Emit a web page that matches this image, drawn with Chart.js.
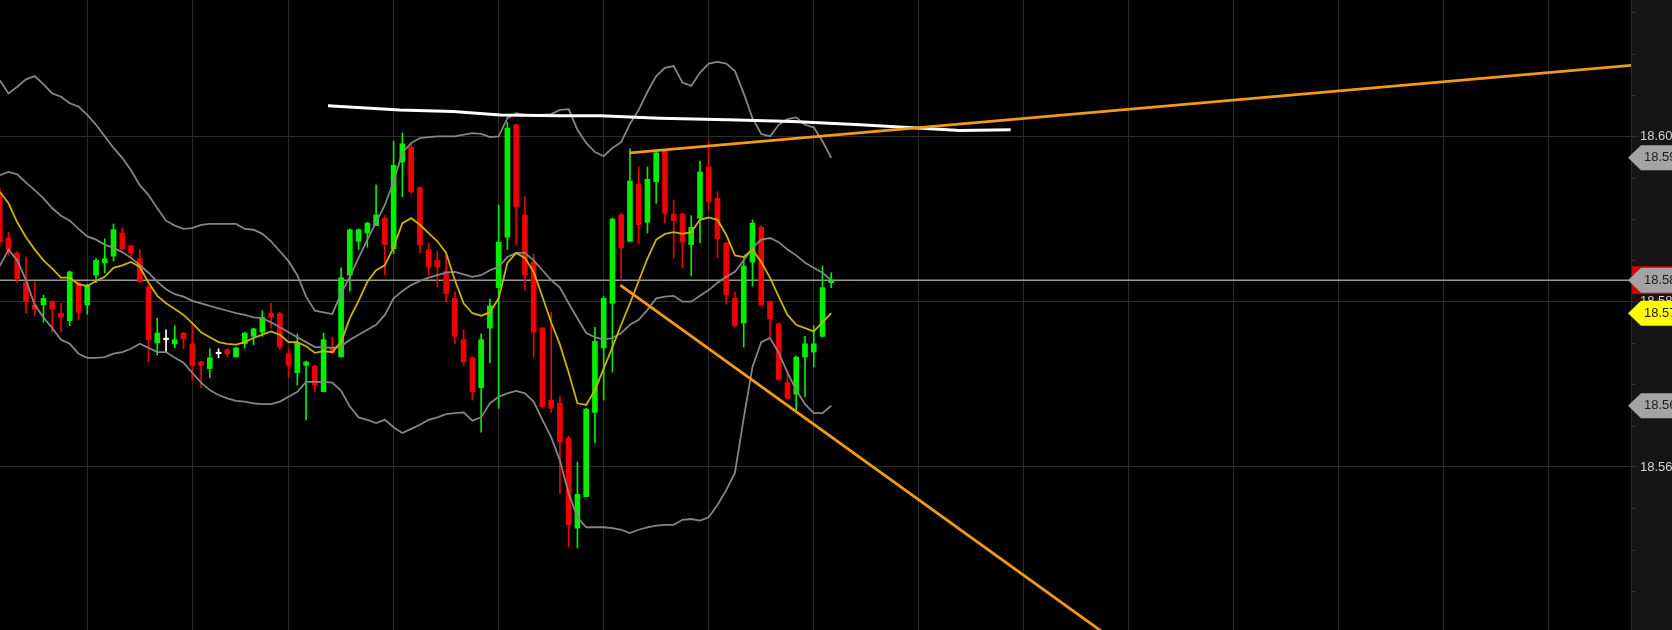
<!DOCTYPE html>
<html>
<head>
<meta charset="utf-8">
<title>Price chart</title>
<script src="https://cdn.jsdelivr.net/npm/chart.js@4/dist/chart.umd.min.js"></script>
<style>
    html, body { margin: 0; padding: 0; background: #000; }
    canvas { display: block; }
</style>
</head>
<body>
<canvas id="priceChart" width="1672" height="630"></canvas>
<script>
// Candles (one per bar slot, index 0 = leftmost)
const opens = [
    18.5931, 18.5877, 18.5859, 18.5823, 18.5796, 18.5796, 18.5800, 18.5786, 18.5777, 18.5823,
    18.5796, 18.5832, 18.5847, 18.5855, 18.5883, 18.5867, 18.5852, 18.5818, 18.5750, 18.5754,
    18.5749, 18.5762, 18.5749, 18.5727, 18.5719, 18.5737, 18.5742, 18.5733, 18.5749, 18.5758,
    18.5763, 18.5786, 18.5786, 18.5737, 18.5714, 18.5723, 18.5722, 18.5691, 18.5744, 18.5733,
    18.5832, 18.5873, 18.5883, 18.5892, 18.5901, 18.5864, 18.5969, 18.5987, 18.5938, 18.5863,
    18.5850, 18.5837, 18.5804, 18.5754, 18.5732, 18.5696, 18.5768, 18.5817, 18.5878, 18.6014,
    18.5905, 18.5848, 18.5768, 18.5681, 18.5677, 18.5635, 18.5526, 18.5564, 18.5666, 18.5744,
    18.5798, 18.5905, 18.5873, 18.5942, 18.5896, 18.5945, 18.5982, 18.5906, 18.5906, 18.5869,
    18.5901, 18.5963, 18.5925, 18.5871, 18.5804, 18.5774, 18.5848, 18.5890, 18.5800, 18.5773,
    18.5702, 18.5688, 18.5733, 18.5739, 18.5758, 18.5823
];
const highs = [
    18.5938, 18.5884, 18.5861, 18.5854, 18.5824, 18.5808, 18.5801, 18.5798, 18.5837, 18.5824,
    18.5821, 18.5852, 18.5876, 18.5894, 18.5889, 18.5869, 18.5863, 18.5819, 18.5780, 18.5766,
    18.5771, 18.5763, 18.5774, 18.5728, 18.5743, 18.5743, 18.5743, 18.5745, 18.5763, 18.5768,
    18.5789, 18.5798, 18.5787, 18.5743, 18.5761, 18.5728, 18.5723, 18.5762, 18.5757, 18.5841,
    18.5888, 18.5888, 18.5896, 18.5941, 18.5904, 18.5994, 18.6004, 18.5990, 18.5939, 18.5871,
    18.5861, 18.5858, 18.5812, 18.5766, 18.5733, 18.5761, 18.5803, 18.5917, 18.6017, 18.6015,
    18.5927, 18.5858, 18.5769, 18.5787, 18.5685, 18.5637, 18.5606, 18.5671, 18.5769, 18.5806,
    18.5901, 18.5907, 18.5985, 18.5963, 18.5963, 18.5981, 18.5984, 18.5923, 18.5907, 18.5904,
    18.5970, 18.5994, 18.5933, 18.5872, 18.5812, 18.5852, 18.5899, 18.5892, 18.5801, 18.5774,
    18.5717, 18.5734, 18.5758, 18.5771, 18.5843, 18.5835
];
const lows = [
    18.5867, 18.5856, 18.5823, 18.5786, 18.5783, 18.5775, 18.5763, 18.5763, 18.5771, 18.5778,
    18.5785, 18.5823, 18.5835, 18.5849, 18.5863, 18.5852, 18.5823, 18.5727, 18.5735, 18.5739,
    18.5744, 18.5743, 18.5705, 18.5696, 18.5708, 18.5732, 18.5733, 18.5733, 18.5744, 18.5748,
    18.5758, 18.5768, 18.5742, 18.5709, 18.5699, 18.5657, 18.5691, 18.5691, 18.5737, 18.5733,
    18.5813, 18.5863, 18.5866, 18.5892, 18.5832, 18.5858, 18.5927, 18.5931, 18.5859, 18.5832,
    18.5818, 18.5800, 18.5749, 18.5723, 18.5681, 18.5642, 18.5726, 18.5671, 18.5863, 18.5869,
    18.5814, 18.5733, 18.5671, 18.5666, 18.5568, 18.5503, 18.5502, 18.5564, 18.5629, 18.5681,
    18.5715, 18.5826, 18.5873, 18.5870, 18.5883, 18.5919, 18.5895, 18.5853, 18.5841, 18.5831,
    18.5871, 18.5911, 18.5853, 18.5797, 18.5769, 18.5745, 18.5819, 18.5795, 18.5758, 18.5705,
    18.5682, 18.5669, 18.5685, 18.5721, 18.5757, 18.5817
];
const closes = [
    18.5872, 18.5863, 18.5827, 18.5800, 18.5791, 18.5804, 18.5791, 18.5781, 18.5836, 18.5787,
    18.5819, 18.5850, 18.5852, 18.5887, 18.5864, 18.5859, 18.5824, 18.5754, 18.5762, 18.5754,
    18.5754, 18.5755, 18.5723, 18.5723, 18.5732, 18.5737, 18.5737, 18.5744, 18.5762, 18.5767,
    18.5781, 18.5781, 18.5745, 18.5723, 18.5750, 18.5727, 18.5699, 18.5754, 18.5738, 18.5829,
    18.5887, 18.5887, 18.5895, 18.5905, 18.5869, 18.5965, 18.5991, 18.5933, 18.5869, 18.5842,
    18.5842, 18.5810, 18.5758, 18.5727, 18.5691, 18.5754, 18.5795, 18.5872, 18.6010, 18.5915,
    18.5832, 18.5763, 18.5673, 18.5671, 18.5630, 18.5530, 18.5567, 18.5670, 18.5752, 18.5804,
    18.5900, 18.5865, 18.5946, 18.5893, 18.5948, 18.5980, 18.5907, 18.5898, 18.5872, 18.5890,
    18.5957, 18.5921, 18.5876, 18.5808, 18.5771, 18.5843, 18.5895, 18.5796, 18.5779, 18.5706,
    18.5683, 18.5733, 18.5749, 18.5749, 18.5817, 18.5826
];

// Bollinger bands
const upperBand = [
    18.6068, 18.6052, 18.6060, 18.6069, 18.6073, 18.6063, 18.6052, 18.6048, 18.6040, 18.6036,
    18.6026, 18.6014, 18.6000, 18.5986, 18.5974, 18.5959, 18.5941, 18.5929, 18.5913, 18.5898,
    18.5892, 18.5888, 18.5889, 18.5893, 18.5894, 18.5894, 18.5894, 18.5894, 18.5888, 18.5887,
    18.5882, 18.5873, 18.5861, 18.5849, 18.5832, 18.5806, 18.5789, 18.5787, 18.5785, 18.5810,
    18.5830, 18.5853, 18.5875, 18.5896, 18.5917, 18.5945, 18.5980, 18.5992, 18.5998, 18.5999,
    18.6000, 18.6000, 18.6000, 18.6002, 18.6004, 18.6003, 18.5999, 18.6000, 18.6022, 18.6028,
    18.6026, 18.6026, 18.6026, 18.6027, 18.6032, 18.6033, 18.6008, 18.5992, 18.5981, 18.5976,
    18.5986, 18.5993, 18.6015, 18.6032, 18.6054, 18.6073, 18.6083, 18.6085, 18.6065, 18.6061,
    18.6077, 18.6088, 18.6090, 18.6088, 18.6079, 18.6052, 18.6022, 18.6003, 18.6000, 18.6014,
    18.6021, 18.6023, 18.6014, 18.6011, 18.5994, 18.5974
];
const middleBand = [
    18.5953, 18.5957, 18.5954, 18.5944, 18.5935, 18.5925, 18.5913, 18.5904, 18.5898, 18.5888,
    18.5879, 18.5875, 18.5869, 18.5865, 18.5860, 18.5853, 18.5844, 18.5835, 18.5824, 18.5815,
    18.5809, 18.5806, 18.5801, 18.5798, 18.5795, 18.5792, 18.5789, 18.5786, 18.5784, 18.5781,
    18.5780, 18.5775, 18.5769, 18.5763, 18.5757, 18.5751, 18.5745, 18.5745, 18.5744, 18.5746,
    18.5754, 18.5760, 18.5766, 18.5772, 18.5784, 18.5804, 18.5813, 18.5820, 18.5825, 18.5829,
    18.5832, 18.5835, 18.5836, 18.5833, 18.5830, 18.5832, 18.5838, 18.5842, 18.5854, 18.5859,
    18.5859, 18.5850, 18.5838, 18.5826, 18.5817, 18.5798, 18.5780, 18.5762, 18.5757, 18.5754,
    18.5756, 18.5762, 18.5772, 18.5778, 18.5790, 18.5804, 18.5806, 18.5807, 18.5800, 18.5800,
    18.5807, 18.5814, 18.5823, 18.5830, 18.5836, 18.5850, 18.5865, 18.5875, 18.5877, 18.5872,
    18.5863, 18.5856, 18.5847, 18.5841, 18.5835, 18.5826
];
const lowerBand = [
    18.5843, 18.5863, 18.5850, 18.5826, 18.5796, 18.5781, 18.5768, 18.5754, 18.5749, 18.5737,
    18.5732, 18.5732, 18.5733, 18.5737, 18.5739, 18.5743, 18.5749, 18.5744, 18.5739, 18.5739,
    18.5732, 18.5726, 18.5714, 18.5702, 18.5693, 18.5687, 18.5683, 18.5680, 18.5679, 18.5677,
    18.5676, 18.5676, 18.5679, 18.5685, 18.5691, 18.5703, 18.5703, 18.5703, 18.5702, 18.5692,
    18.5673, 18.5660, 18.5657, 18.5653, 18.5657, 18.5648, 18.5641, 18.5646, 18.5651, 18.5657,
    18.5660, 18.5664, 18.5665, 18.5666, 18.5656, 18.5660, 18.5677, 18.5685, 18.5689, 18.5692,
    18.5689, 18.5679, 18.5657, 18.5636, 18.5608, 18.5568, 18.5539, 18.5527, 18.5527, 18.5527,
    18.5526, 18.5524, 18.5520, 18.5524, 18.5527, 18.5529, 18.5530, 18.5530, 18.5536, 18.5537,
    18.5535, 18.5539, 18.5554, 18.5572, 18.5593, 18.5659, 18.5721, 18.5751, 18.5756, 18.5738,
    18.5714, 18.5693, 18.5676, 18.5665, 18.5665, 18.5674
];

// Fast moving average (yellow)
const fastMa = [
    18.5933, 18.5919, 18.5896, 18.5878, 18.5863, 18.5850, 18.5840, 18.5829, 18.5829, 18.5821,
    18.5819, 18.5825, 18.5830, 18.5841, 18.5844, 18.5848, 18.5842, 18.5823, 18.5807, 18.5798,
    18.5791, 18.5784, 18.5774, 18.5763, 18.5757, 18.5751, 18.5749, 18.5748, 18.5751, 18.5756,
    18.5760, 18.5764, 18.5760, 18.5751, 18.5751, 18.5746, 18.5738, 18.5740, 18.5739, 18.5751,
    18.5780, 18.5801, 18.5824, 18.5838, 18.5844, 18.5866, 18.5895, 18.5901, 18.5893, 18.5883,
    18.5873, 18.5859, 18.5826, 18.5798, 18.5786, 18.5783, 18.5787, 18.5804, 18.5847, 18.5859,
    18.5853, 18.5836, 18.5806, 18.5775, 18.5748, 18.5714, 18.5677, 18.5675, 18.5693, 18.5719,
    18.5745, 18.5772, 18.5798, 18.5825, 18.5852, 18.5875, 18.5882, 18.5884, 18.5882, 18.5884,
    18.5899, 18.5902, 18.5899, 18.5881, 18.5856, 18.5854, 18.5863, 18.5848, 18.5829, 18.5806,
    18.5784, 18.5772, 18.5768, 18.5764, 18.5775, 18.5786
];

// Hand drawn lines (bar slot, price)
const whiteLineX = [37.5, 45.7, 51.8, 57.2, 64.0, 68.6, 75.4, 83.1, 90.6, 98.3, 104.8, 109.7, 115.5];
const whiteLineY = [18.6037, 18.6032, 18.6030, 18.6026, 18.6025, 18.6025, 18.6022, 18.6020, 18.6018, 18.6014, 18.6010, 18.6007, 18.6008];
const upTrendX = [72.0, 186.4];
const upTrendY = [18.5980, 18.6086];
const downTrendX = [70.9, 128.0];
const downTrendY = [18.5820, 18.5385];

// Axes
const gridSlots = [10, 22, 33, 45, 57, 69, 81, 93, 105, 117, 129, 141, 153, 165, 177];
const priceTicks = [18.56, 18.58, 18.60];
const slotMin = 0.03, slotMax = 186.37;
const priceMin = 18.54027, priceMax = 18.6165;

const GREEN = '#00f000';
const RED = '#f00000';
const last = closes.length - 1;

function points(xs, ys) {
    return xs.map((x, i) => ({ x: x, y: ys[i] }));
}
function series(values) {
    return values.map((v, i) => ({ x: i, y: v }));
}

const candleColors = closes.map((c, i) => c > opens[i] ? GREEN : (c < opens[i] ? RED : '#ffffff'));

// Right price panel: background, labels, markers
const pricePanel = {
    id: 'pricePanel',
    beforeDraw(chart) {
        const { ctx, chartArea, width, height } = chart;
        ctx.save();
        ctx.fillStyle = '#000000';
        ctx.fillRect(0, 0, width, height);
        ctx.fillStyle = '#151515';
        ctx.fillRect(chartArea.right, 0, width - chartArea.right, height);
        ctx.restore();
    },
    afterDraw(chart) {
        const { ctx, chartArea, width } = chart;
        const yScale = chart.scales.y;
        const right = chartArea.right;
        ctx.save();

        ctx.strokeStyle = '#2c2c2c';
        ctx.lineWidth = 1;
        ctx.beginPath();
        ctx.moveTo(right + 0.5, 0);
        ctx.lineTo(right + 0.5, chart.height);
        ctx.stroke();

        // minor ticks every 0.005
        ctx.strokeStyle = '#363636';
        for (let k = 1; k < 16; k++) {
            if (k % 4 === 0) continue;
            const py = Math.round(yScale.getPixelForValue(18.54 + k * 0.005)) + 0.5;
            ctx.beginPath();
            ctx.moveTo(right + 1, py);
            ctx.lineTo(right + 4, py);
            ctx.stroke();
        }

        ctx.font = '13px "Liberation Sans", Arial, sans-serif';
        ctx.textBaseline = 'middle';
        ctx.textAlign = 'left';
        ctx.fillStyle = '#d2d2d2';
        priceTicks.forEach(v => {
            ctx.fillText(v.toFixed(2), right + 9, yScale.getPixelForValue(v));
        });

        function marker(value, fill, textColor) {
            const cy = yScale.getPixelForValue(value);
            ctx.fillStyle = fill;
            ctx.beginPath();
            ctx.moveTo(right - 3, cy);
            ctx.lineTo(right + 10, cy - 12.5);
            ctx.lineTo(width, cy - 12.5);
            ctx.lineTo(width, cy + 12.5);
            ctx.lineTo(right + 10, cy + 12.5);
            ctx.closePath();
            ctx.fill();
            ctx.fillStyle = textColor;
            ctx.fillText(value.toFixed(4), right + 13, cy);
        }

        marker(upperBand[last], '#a4a4a4', '#1c1c1c');
        const midY = yScale.getPixelForValue(middleBand[last]);
        ctx.fillStyle = '#d40000';
        ctx.fillRect(right + 1, midY - 14, width - right, 28);
        marker(closes[last], '#a4a4a4', '#1c1c1c');
        marker(fastMa[last], '#ffff00', '#1c1c1c');
        marker(lowerBand[last], '#a4a4a4', '#1c1c1c');

        ctx.restore();
    }
};

const slots = closes.map((c, i) => i);

new Chart(document.getElementById('priceChart'), {
    type: 'bar',
    data: {
        datasets: [
            {
                type: 'line', data: points(upTrendX, upTrendY),
                borderColor: '#f39a17', borderWidth: 2.8, pointRadius: 0, clip: 0, order: 0
            },
            {
                type: 'line', data: points(downTrendX, downTrendY),
                borderColor: '#f39a17', borderWidth: 2.8, pointRadius: 0, clip: 0, order: 0
            },
            {
                type: 'line', data: points(whiteLineX, whiteLineY),
                borderColor: '#ffffff', borderWidth: 3, pointRadius: 0, clip: 0, order: 1
            },
            {
                type: 'line', data: series(fastMa),
                borderColor: '#cbb300', borderWidth: 1.8, pointRadius: 0, clip: 0, order: 2
            },
            {
                type: 'line', data: series(upperBand),
                borderColor: '#858585', borderWidth: 1.8, pointRadius: 0, clip: 0, order: 3
            },
            {
                type: 'line', data: series(middleBand),
                borderColor: '#858585', borderWidth: 1.8, pointRadius: 0, clip: 0, order: 3
            },
            {
                type: 'line', data: series(lowerBand),
                borderColor: '#858585', borderWidth: 1.8, pointRadius: 0, clip: 0, order: 3
            },
            {
                type: 'bar', data: slots.map(i => ({ x: i, y: [opens[i], closes[i]] })),
                backgroundColor: candleColors, barThickness: 5, minBarLength: 1.5,
                grouped: false, borderWidth: 0, order: 4
            },
            {
                type: 'bar', data: slots.map(i => ({ x: i, y: [lows[i], highs[i]] })),
                backgroundColor: candleColors, barThickness: 1, grouped: false, borderWidth: 0, order: 5
            },
            {
                type: 'line', data: [{ x: slotMin, y: closes[last] }, { x: slotMax, y: closes[last] }],
                borderColor: '#9a9a9a', borderWidth: 1.5, pointRadius: 0, clip: 0, order: 6
            }
        ]
    },
    options: {
        responsive: false,
        animation: false,
        events: [],
        layout: { padding: 0 },
        plugins: {
            legend: { display: false },
            tooltip: { enabled: false }
        },
        scales: {
            x: {
                type: 'linear',
                min: slotMin,
                max: slotMax,
                offset: false,
                grid: { color: '#2d2d2d', lineWidth: 1, drawTicks: false, offset: false },
                border: { display: false },
                ticks: { display: false },
                afterBuildTicks: scale => { scale.ticks = gridSlots.map(v => ({ value: v })); }
            },
            y: {
                type: 'linear',
                position: 'right',
                min: priceMin,
                max: priceMax,
                beginAtZero: false,
                grid: { color: '#2d2d2d', lineWidth: 1, drawTicks: true, tickLength: 7 },
                border: { display: false },
                ticks: { display: false },
                afterBuildTicks: scale => { scale.ticks = priceTicks.map(v => ({ value: v })); },
                afterFit: scale => { scale.width = 41; }
            }
        }
    },
    plugins: [pricePanel]
});
</script>
</body>
</html>
